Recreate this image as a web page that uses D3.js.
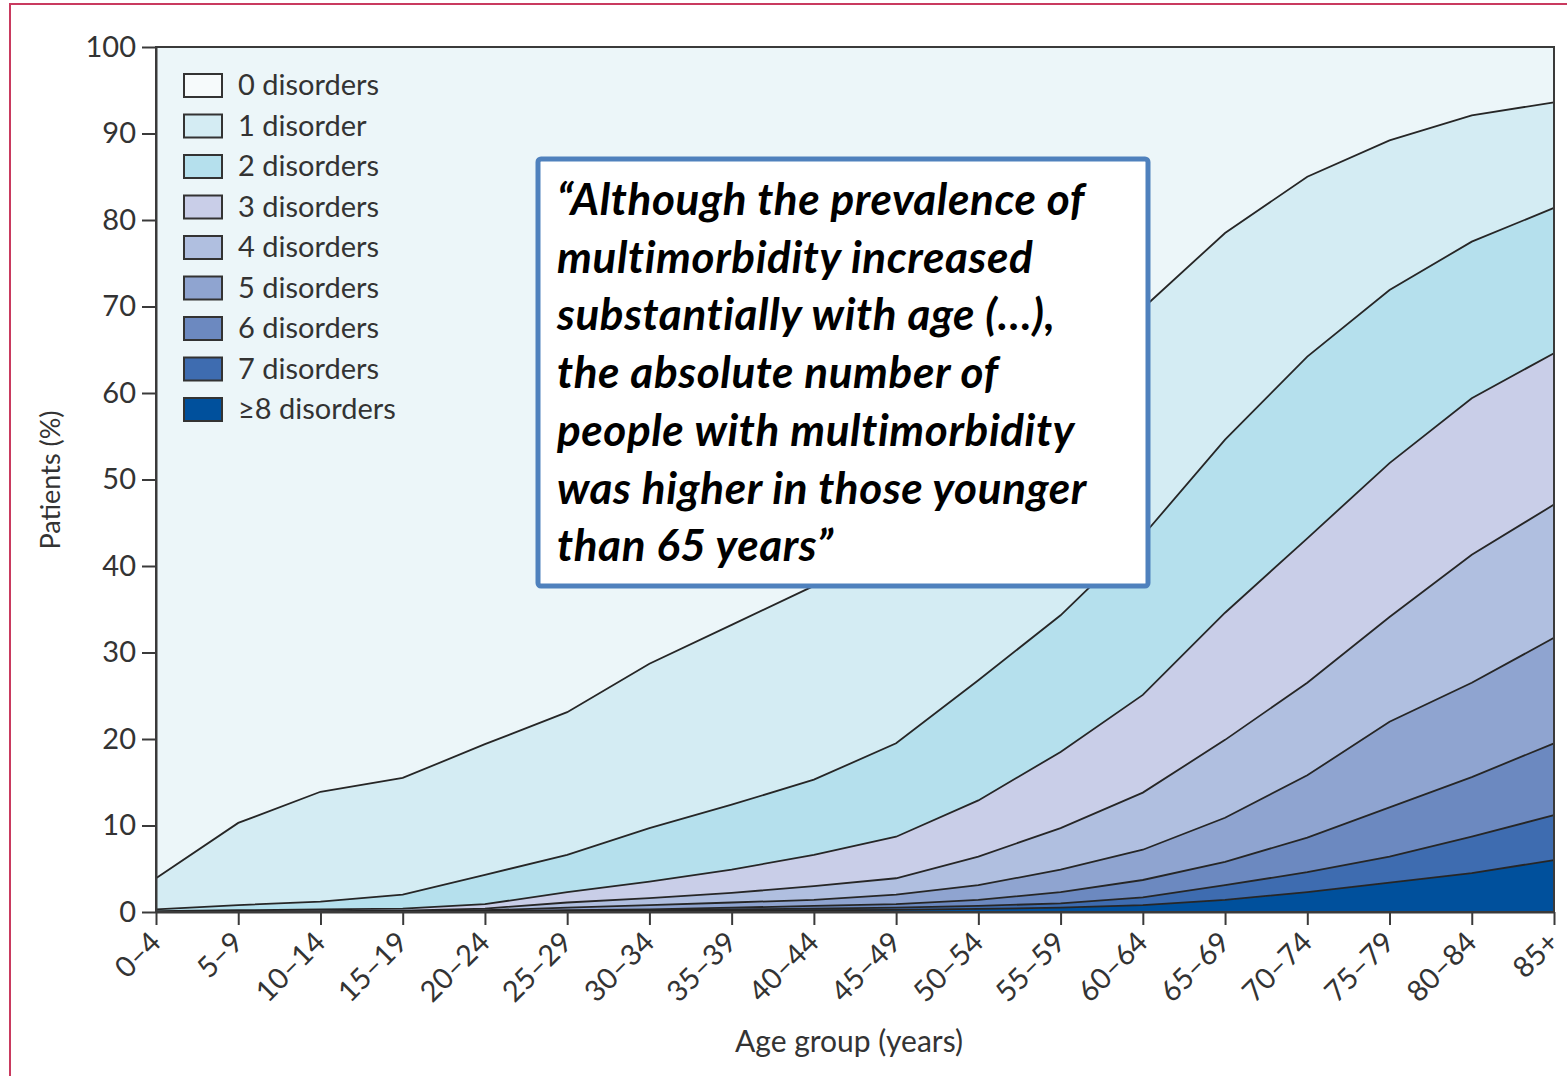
<!DOCTYPE html>
<html>
<head>
<meta charset="utf-8">
<script src="https://cdn.jsdelivr.net/npm/d3@7"></script>
<style>
  body { margin: 0; background: #fff; }
  svg { display: block; }
  .axis text { font-family: Lato, sans-serif; font-size: 29px; fill: #333; }
  .axis path, .axis line { stroke: #3a3a3a; stroke-width: 2; }
</style>
</head>
<body>
<svg id="chart" width="1567" height="1076"></svg>
<script>
// age groups on the x axis
var ageGroups = ["0–4", "5–9", "10–14", "15–19", "20–24", "25–29", "30–34", "35–39", "40–44",
    "45–49", "50–54", "55–59", "60–64", "65–69", "70–74", "75–79", "80–84", "85+"];

// share of patients (%) in each age group, by number of disorders
var disorders0 = [96.1, 89.7, 86.1, 84.5, 80.6, 76.9, 71.3, 66.8, 62.3, 56.0, 48.0, 39.0, 30.2, 21.5, 15.0, 10.8, 7.9, 6.4];
var disorders1 = [3.6, 9.5, 12.7, 13.5, 15.1, 16.5, 19.0, 20.8, 22.4, 24.5, 25.2, 26.7, 26.3, 23.9, 20.8, 17.3, 14.6, 12.2];
var disorders2 = [0.2, 0.6, 0.9, 1.6, 3.4, 4.3, 6.2, 7.5, 8.7, 10.8, 13.9, 15.8, 18.4, 20.0, 21.0, 20.0, 18.1, 16.8];
var disorders3 = [0.1, 0.1, 0.2, 0.25, 0.5, 1.2, 1.9, 2.7, 3.6, 4.8, 6.5, 8.8, 11.3, 14.7, 16.7, 17.8, 18.1, 17.5];
var disorders4 = [0, 0.1, 0.05, 0.05, 0.2, 0.6, 0.8, 1.1, 1.6, 1.9, 3.3, 4.8, 6.6, 9.0, 10.7, 12.1, 14.8, 15.4];
var disorders5 = [0, 0, 0.05, 0.05, 0.1, 0.3, 0.5, 0.6, 0.7, 1.1, 1.7, 2.6, 3.5, 5.1, 7.2, 9.9, 10.9, 12.2];
var disorders6 = [0, 0, 0, 0.05, 0.05, 0.1, 0.1, 0.2, 0.3, 0.4, 0.7, 1.3, 2.0, 2.7, 4.0, 5.7, 6.9, 8.3];
var disorders7 = [0, 0, 0, 0, 0.05, 0.05, 0.1, 0.15, 0.2, 0.25, 0.35, 0.5, 0.9, 1.7, 2.3, 3.0, 4.2, 5.2];
var disorders8plus = [0, 0, 0, 0, 0, 0.05, 0.1, 0.15, 0.2, 0.25, 0.35, 0.5, 0.8, 1.4, 2.3, 3.4, 4.5, 6.0];

var legendLabels = ["0 disorders", "1 disorder", "2 disorders", "3 disorders", "4 disorders",
    "5 disorders", "6 disorders", "7 disorders", "≥8 disorders"];
var layerColors = ["#ecf6f9", "#d4ecf3", "#b5e0ed", "#c9cee8", "#b0bfe0",
    "#8fa4d0", "#6c89c0", "#3e6cb0", "#00509c"];
var yTicks = [0, 10, 20, 30, 40, 50, 60, 70, 80, 90, 100];

var quoteLines = [
    "“Although the prevalence of",
    "multimorbidity increased",
    "substantially with age (…),",
    "the absolute number of",
    "people with multimorbidity",
    "was higher in those younger",
    "than 65 years”"
];

var seriesList = [disorders0, disorders1, disorders2, disorders3, disorders4,
    disorders5, disorders6, disorders7, disorders8plus];
var keys = legendLabels.slice();

// rows for d3.stack
var rows = ageGroups.map(function(age, i) {
    var row = { age: age };
    keys.forEach(function(k, j) { row[k] = seriesList[j][i]; });
    return row;
});

var svg = d3.select("#chart");
var margin = { left: 156, right: 13, top: 47, bottom: 164 };
var width = 1567 - margin.left - margin.right;
var height = 1076 - margin.top - margin.bottom;

// outer frame (only top and left edges are inside the picture)
svg.append("rect")
    .attr("x", 10).attr("y", 4)
    .attr("width", 1600).attr("height", 1100)
    .attr("fill", "none")
    .attr("stroke", "#c93a5f")
    .attr("stroke-width", 2);

var g = svg.append("g").attr("transform", "translate(" + margin.left + "," + margin.top + ")");

var x = d3.scalePoint().domain(ageGroups).range([0, width]);
var y = d3.scaleLinear().domain([0, 100]).range([height, 0]);

// stack from the bottom: ≥8 first, 0 disorders last
var stack = d3.stack().keys(keys.slice().reverse());
var layers = stack(rows);

var area = d3.area()
    .x(function(d) { return x(d.data.age); })
    .y0(function(d) { return y(d[0]); })
    .y1(function(d) { return y(Math.min(d[1], 100)); });

var line = d3.line()
    .x(function(d) { return x(d.data.age); })
    .y(function(d) { return y(d[1]); });

g.selectAll("path.layer")
    .data(layers)
    .enter()
    .append("path")
    .attr("class", "layer")
    .attr("fill", function(d) { return layerColors[keys.indexOf(d.key)]; })
    .attr("d", area);

// boundary lines (skip the top one, the frame covers it)
g.selectAll("path.edge")
    .data(layers.slice(0, layers.length - 1))
    .enter()
    .append("path")
    .attr("class", "edge")
    .attr("fill", "none")
    .attr("stroke", "#262626")
    .attr("stroke-width", 1.8)
    .attr("d", line);

// plot frame
g.append("rect")
    .attr("width", width).attr("height", height)
    .attr("fill", "none")
    .attr("stroke", "#3a3a3a")
    .attr("stroke-width", 2);

// y axis
g.append("g")
    .attr("class", "axis")
    .call(d3.axisLeft(y).tickValues(yTicks).tickSize(14).tickSizeOuter(0).tickPadding(6));

// x axis
var xAxis = g.append("g")
    .attr("class", "axis")
    .attr("transform", "translate(0," + height + ")")
    .call(d3.axisBottom(x).tickSize(13).tickSizeOuter(0));

xAxis.selectAll("text")
    .attr("x", 0).attr("y", 0).attr("dy", "0.35em")
    .style("text-anchor", "end")
    .attr("transform", "translate(-1,25) rotate(-45)");

// axis titles
svg.append("text")
    .attr("x", margin.left + width / 2 - 6)
    .attr("y", 1052)
    .attr("text-anchor", "middle")
    .style("font-family", "Lato, sans-serif")
    .style("font-size", "30px")
    .style("fill", "#333")
    .text("Age group (years)");

svg.append("text")
    .attr("transform", "translate(60,480) rotate(-90)")
    .attr("text-anchor", "middle")
    .style("font-family", "Lato, sans-serif")
    .style("font-size", "27px")
    .style("fill", "#333")
    .text("Patients (%)");

// legend
var legend = g.selectAll("g.legend")
    .data(legendLabels)
    .enter()
    .append("g")
    .attr("class", "legend")
    .attr("transform", function(d, i) { return "translate(28," + (38 + i * 40.5) + ")"; });

legend.append("rect")
    .attr("x", 0).attr("y", -11)
    .attr("width", 38).attr("height", 23)
    .attr("fill", function(d, i) { return i === 0 ? "#f6fafb" : layerColors[i]; })
    .attr("stroke", "#333")
    .attr("stroke-width", 2);

legend.append("text")
    .attr("x", 54).attr("y", 0).attr("dy", "0.35em")
    .style("font-family", "Lato, sans-serif")
    .style("font-size", "29px")
    .style("fill", "#333")
    .text(function(d) { return d; });

// quote box
svg.append("rect")
    .attr("x", 538).attr("y", 159)
    .attr("width", 610).attr("height", 427)
    .attr("rx", 3)
    .attr("fill", "#fff")
    .attr("stroke", "#4f81bd")
    .attr("stroke-width", 5);

svg.selectAll("text.quote")
    .data(quoteLines)
    .enter()
    .append("text")
    .attr("class", "quote")
    .attr("x", 557)
    .attr("y", function(d, i) { return 215 + i * 57.7; })
    .style("font-family", "Lato, sans-serif")
    .style("font-size", "44px")
    .style("letter-spacing", "0.6px")
    .style("font-weight", "bold")
    .style("font-style", "italic")
    .style("fill", "#000")
    .text(function(d) { return d; });
</script>
</body>
</html>
